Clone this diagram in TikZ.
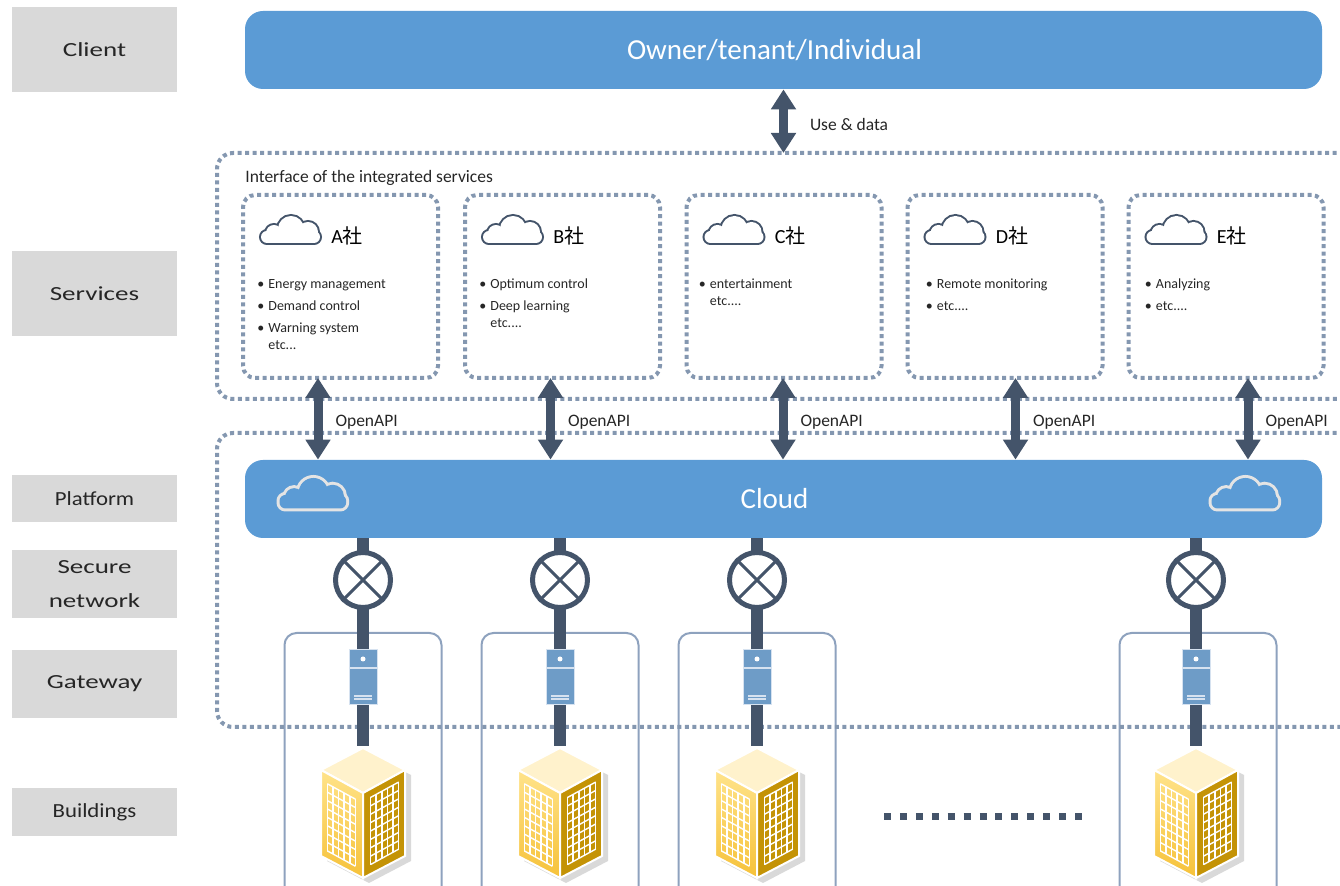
\documentclass[tikz,border=0pt]{standalone}
\usepackage{fontspec}
\setmainfont{Carlito}
\newfontfamily\cjk{Noto Sans CJK JP}
\usepackage{graphicx}
\usetikzlibrary{arrows.meta}

\definecolor{office}{HTML}{5B9BD5}
\definecolor{slate}{HTML}{44546A}
\definecolor{dotc}{HTML}{8497B0}
\definecolor{lblgray}{HTML}{D9D9D9}
\definecolor{ink}{HTML}{262626}
\definecolor{framec}{HTML}{8EA2BE}
\definecolor{srvc}{HTML}{6E9CC7}
\definecolor{srvl}{HTML}{D6E2F0}
\definecolor{cloudline}{HTML}{E4E4E4}
\definecolor{bldtop}{HTML}{FFF2CC}
\definecolor{bldleft}{HTML}{FFE38A}
\definecolor{bldleftdk}{HTML}{F6C23A}
\definecolor{bldright}{HTML}{C49306}

\newcommand\wide[2]{\scalebox{#1}[1]{#2}}
\newcommand\svcitem{\strut\makebox[5.5pt][l]{\textbullet}}
\newcommand\svcmore{\strut\hspace*{5.5pt}}

\tikzset{
  tier/.style={fill=lblgray, text=ink, minimum width=82.5pt, inner sep=0pt,
    font=\fontsize{10pt}{17pt}\selectfont},
  bluebar/.style={fill=office, rounded corners=9pt, minimum width=538.5pt,
    minimum height=39pt, text=white, font=\fontsize{14.5pt}{16pt}\selectfont},
  dotbox/.style={draw=dotc, line width=2pt, dash pattern=on 2pt off 1.75pt,
    rounded corners=8pt, inner sep=0pt, outer sep=0pt},
  svcbox/.style={dotbox, rounded corners=6pt, minimum width=97.5pt, minimum height=91.5pt},
  txt/.style={inner sep=0pt, text=ink, font=\fontsize{8.75pt}{10pt}\selectfont},
  svctitle/.style={inner sep=0pt, anchor=west, font=\fontsize{10pt}{12pt}\selectfont},
  items/.style={anchor=north west, inner sep=0pt, align=left, text=ink,
    font=\fontsize{7pt}{8.5pt}\selectfont},
  dbl/.style={slate, line width=4.5pt,
    {Triangle[width=12pt,length=10pt]}-{Triangle[width=12pt,length=10pt]}},
  bar/.style={slate, line width=6pt},
  valve/.style={circle, draw=slate, line width=2.5pt, fill=white, minimum size=27.5pt, inner sep=0pt},
  server/.style={draw=srvl, line width=.5pt, fill=srvc, minimum width=14pt,
    minimum height=27.5pt, inner sep=0pt},
  bldframe/.style={draw=framec, line width=1pt, rounded corners=6pt, minimum width=78.5pt,
    minimum height=150pt, anchor=north, inner sep=0pt},
  % outline of a cloud: stroke the parts, then paint them over
  pics/cloud/.style 2 args={code={
    \begin{scope}[yscale=-1]
      \draw[#1, rounded corners=3pt] (0,0) rectangle (59,12);
      \draw[#1] (13,10) circle[radius=8] (30,14) circle[radius=13] (47,11) circle[radius=10];
      \fill[#2, rounded corners=3pt] (0,0) rectangle (59,12);
      \fill[#2] (13,10) circle[radius=8];
      \fill[#2] (30,14) circle[radius=13];
      \fill[#2] (47,11) circle[radius=10];
    \end{scope}
  }},
  pics/building/.style={code={
    \fill[black, opacity=.15] (6,5) -- (48,27) -- (48,113) -- (6,135) -- (-36,113) -- (-36,27) -- cycle;
    \filldraw[white, line width=1pt, fill=bldtop] (0,0) -- (42,22) -- (0,45) -- (-42,22) -- cycle;
    \filldraw[white, line width=1pt, top color=bldleft, bottom color=bldleftdk]
      (-42,22) -- (0,45) -- (0,130) -- (-42,108) -- cycle;
    \filldraw[white, line width=1pt, fill=bldright] (0,45) -- (42,22) -- (42,108) -- (0,130) -- cycle;
    % windows
    \begin{scope}[shift={(-42,22)}, x={(42,23)}, y={(0,86)}, white, line width=.7pt]
      \foreach \k in {0,...,5} \draw ({.15+.134*\k},.12) -- ({.15+.134*\k},.9);
      \foreach \k in {0,...,8} \draw (.15,{.12+.0975*\k}) -- (.82,{.12+.0975*\k});
    \end{scope}
    \begin{scope}[shift={(0,45)}, x={(42,-23)}, y={(0,86)}, white, line width=.7pt]
      \foreach \k in {0,...,5} \draw ({.18+.134*\k},.1) -- ({.18+.134*\k},.88);
      \foreach \k in {0,...,8} \draw (.18,{.1+.0975*\k}) -- (.85,{.1+.0975*\k});
    \end{scope}
  }},
}

\begin{document}
\begin{tikzpicture}[x=0.5pt, y=-0.5pt]
\useasboundingbox (0,0) rectangle (1340,886);
\clip (0,0) rectangle (1340,886);

% layers on the left
\node[tier, minimum height=42.5pt] (client) at (94.5,49.5) {\wide{1.35}{Client}};
\node[tier, minimum height=42.5pt] (services) at (94.5,293.5) {\wide{1.35}{Services}};
\node[tier, minimum height=23.5pt] (platform) at (94.5,498.5) {\wide{1.14}{Platform}};
\node[tier, minimum height=34pt] (network) at (94.5,584)
  {\wide{1.35}{\begin{tabular}{@{}c@{}}Secure\\network\end{tabular}}};
\node[tier, minimum height=34pt] (gateway) at (94.5,684) {\wide{1.35}{Gateway}};
\node[tier, minimum height=24pt] (buildings) at (94.5,812) {\wide{1.14}{Buildings}};

% client
\node[bluebar] (owner) at (783.5,50) {\hspace*{-9pt}Owner/tenant/Individual};

% services
\node[dotbox, anchor=north west, minimum width=571.5pt, minimum height=123pt] (svcarea) at (217,153) {};
\node[txt, anchor=west] (iface) at (245,178) {Interface of the integrated services};
\draw[dbl] (owner.south) -- (owner.south |- svcarea.north)
  node[txt, midway, anchor=west, xshift=11pt, yshift=-1.5pt] (use) {Use \& data};

% platform
\foreach \gx [count=\i] in {363,560,757,1198}
  \node[bldframe] (frame\i) at (\gx,632) {};
\node[dotbox, anchor=north west, minimum width=571.5pt, minimum height=147pt] (pfarea) at (217,433) {};
\node[bluebar] (cloudbar) at (783.5,499) {\hspace*{-9pt}Cloud};
\pic[scale=1.13, line width=3pt] at (279.5,508.5) {cloud={cloudline}{office}};
\pic[scale=1.13, line width=3pt] at (1211.5,508.5) {cloud={cloudline}{office}};

\foreach \s/\sx [count=\i from 0] in {A/340.5,B/562.5,C/784,D/1005,E/1226}{
  \node[svcbox] (svc\s) at (\sx,286.5) {};
  \pic[line width=2pt] at ([shift={(18,48)}]svc\s.north west) {cloud={slate}{white}};
  \node[svctitle] (title\s) at ([shift={(88,41)}]svc\s.north west) {\s{\cjk 社}};
  \pgfmathsetmacro\ax{318+232.5*\i}
  \draw[dbl] (svc\s.south -| \ax,0) -- (cloudbar.north -| \ax,0)
    node[txt, midway, anchor=west, xshift=6.5pt, yshift=-1.5pt] (api\s) {OpenAPI};
}

\node[items] (listA) at ([shift={(14,81)}]svcA.north west)
  {\svcitem Energy management\\[2.5pt] \svcitem Demand control\\[2.5pt] \svcitem Warning system\\ \svcmore etc...};
\node[items] (listB) at ([shift={(14,81)}]svcB.north west)
  {\svcitem Optimum control\\[2.5pt] \svcitem Deep learning\\ \svcmore etc....};
\node[items] (listC) at ([shift={(12,81)}]svcC.north west)
  {\svcitem entertainment\\ \svcmore etc....};
\node[items] (listD) at ([shift={(18,81)}]svcD.north west)
  {\svcitem Remote monitoring\\[2.5pt] \svcitem etc....};
\node[items] (listE) at ([shift={(16,81)}]svcE.north west)
  {\svcitem Analyzing\\[2.5pt] \svcitem etc....};

% secure network, gateways and buildings
\foreach \gx [count=\i] in {363,560,757,1196}{
  \coordinate (bldtop\i) at (\gx,746);
  \draw[bar] (cloudbar.south -| bldtop\i) -- (bldtop\i);
  \node[valve] (valve\i) at (\gx,580) {};
  \draw[slate, line width=1.5pt] (valve\i.north east) -- (valve\i.south west)
    (valve\i.north west) -- (valve\i.south east);
  \node[server] (srv\i) at (\gx,677.5) {};
  \draw[srvl, line width=.6pt] ([shift={(-14,-9.5)}]srv\i.center) -- ++(28,0)
    ([shift={(-9,18.5)}]srv\i.center) -- ++(18,0)
    ([shift={(-9,21.5)}]srv\i.center) -- ++(18,0);
  \fill[white] ([shift={(0,-18.5)}]srv\i.center) circle[radius=2.5];
  \pic (bld\i) at (\gx,748) {building};
}

\draw[slate, line width=3.5pt, dash pattern=on 3.5pt off 4.46pt] (884,816.5) -- (1082,816.5);
\end{tikzpicture}
\end{document}
